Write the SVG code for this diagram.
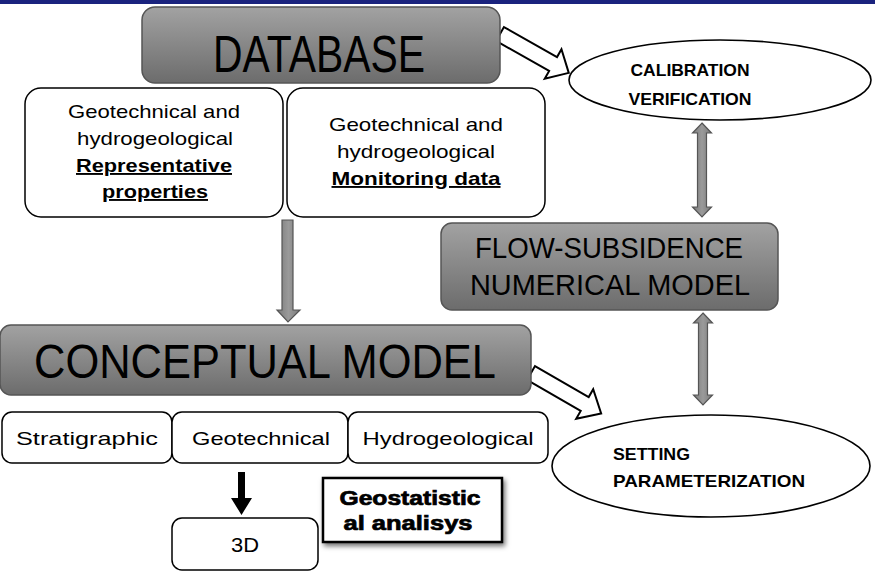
<svg xmlns="http://www.w3.org/2000/svg" width="875" height="572" viewBox="0 0 875 572">
<defs>
<linearGradient id="gbox" x1="0" y1="0" x2="0" y2="1">
<stop offset="0" stop-color="#a2a2a2"/><stop offset="1" stop-color="#6c6c6c"/>
</linearGradient>
<linearGradient id="garr" x1="0" y1="0" x2="1" y2="0">
<stop offset="0" stop-color="#7a7a7a"/><stop offset="0.5" stop-color="#9a9a9a"/><stop offset="1" stop-color="#7a7a7a"/>
</linearGradient>
<filter id="shadow" x="-20%" y="-20%" width="140%" height="150%">
<feDropShadow dx="2" dy="3" stdDeviation="2.5" flood-color="#000" flood-opacity="0.55"/>
</filter>
</defs>
<style>
text{font-family:"Liberation Sans",Arial,sans-serif;fill:#000}
.gray{fill:url(#gbox);stroke:#555;stroke-width:1.5}
.white{fill:#fff;stroke:#000;stroke-width:1.5}
.ell{fill:#fff;stroke:#000;stroke-width:1.6}
.hollow{fill:#fff;stroke:#000;stroke-width:2;stroke-linejoin:miter}
.garrow{fill:url(#garr);stroke:#555;stroke-width:1.2}
.m{text-anchor:middle}
.b{font-weight:bold}
.u{text-decoration:underline}
</style>
<rect x="0" y="0" width="875" height="4" fill="#1a237e"/>

<g id="connectors">
<polygon class="hollow" transform="translate(500,34) rotate(29.5)" points="0,-8 61,-8 61,-17 79,0 61,17 61,8 0,8"/>
<polygon class="hollow" transform="translate(531,373) rotate(30)" points="0,-8 62,-8 62,-17 81,0 62,17 62,8 0,8"/>
<polygon class="garrow" points="282,220 293,220 293,310 300,310 288,322 277,310 282,310"/>
<polygon class="garrow" points="702,123 711.5,133 706.5,133 706.5,207 711.5,207 702,217 692.5,207 697.5,207 697.5,133 692.5,133"/>
<polygon class="garrow" points="703,313 712.5,323 707.5,323 707.5,395 712.5,395 703,405 693.5,395 698.5,395 698.5,323 693.5,323"/>
<polygon fill="#000" points="238,472 245,472 245,498 252,498 241.5,515 231,498 238,498"/>
</g>

<g id="database">
<rect class="gray" x="142" y="7" width="358" height="76" rx="13"/>
<text class="m" x="319" y="72" font-size="52" textLength="212" lengthAdjust="spacingAndGlyphs">DATABASE</text>
</g>

<g id="calibration">
<ellipse class="ell" cx="720" cy="80" rx="151" ry="40"/>
<text class="m b" x="690" y="76" font-size="17" textLength="119" lengthAdjust="spacingAndGlyphs">CALIBRATION</text>
<text class="m b" x="690" y="105" font-size="17" textLength="123" lengthAdjust="spacingAndGlyphs">VERIFICATION</text>
</g>

<g id="representative">
<rect class="white" x="25" y="88" width="258" height="129" rx="16"/>
<text class="m" x="154" y="118" font-size="19" textLength="172" lengthAdjust="spacingAndGlyphs">Geotechnical and</text>
<text class="m" x="155" y="145" font-size="19" textLength="156" lengthAdjust="spacingAndGlyphs">hydrogeological</text>
<text class="m b u" x="154" y="172" font-size="19" textLength="156" lengthAdjust="spacingAndGlyphs">Representative</text>
<text class="m b u" x="155" y="198" font-size="19" textLength="106" lengthAdjust="spacingAndGlyphs">properties</text>
</g>

<g id="monitoring">
<rect class="white" x="287" y="88" width="258" height="129" rx="16"/>
<text class="m" x="416" y="131" font-size="19" textLength="174" lengthAdjust="spacingAndGlyphs">Geotechnical and</text>
<text class="m" x="416" y="158" font-size="19" textLength="158" lengthAdjust="spacingAndGlyphs">hydrogeological</text>
<text class="m b u" x="416" y="185" font-size="19" textLength="169" lengthAdjust="spacingAndGlyphs">Monitoring data</text>
</g>

<g id="numerical-model">
<rect class="gray" x="441" y="223" width="337" height="87" rx="11"/>
<text class="m" x="609" y="258" font-size="30" textLength="268" lengthAdjust="spacingAndGlyphs">FLOW-SUBSIDENCE</text>
<text class="m" x="610" y="295" font-size="30" textLength="280" lengthAdjust="spacingAndGlyphs">NUMERICAL MODEL</text>
</g>

<g id="conceptual-model">
<rect class="gray" x="0" y="325" width="531" height="70" rx="11"/>
<text class="m" x="265" y="378" font-size="49" textLength="462" lengthAdjust="spacingAndGlyphs">CONCEPTUAL MODEL</text>
</g>

<g id="setting">
<ellipse class="ell" cx="711" cy="466" rx="159" ry="51"/>
<text class="b" x="613" y="460" font-size="17" textLength="77" lengthAdjust="spacingAndGlyphs">SETTING</text>
<text class="b" x="613" y="487" font-size="17" textLength="192" lengthAdjust="spacingAndGlyphs">PARAMETERIZATION</text>
</g>

<g id="stratigraphic">
<rect class="white" x="2" y="412" width="170" height="51" rx="10"/>
<text class="m" x="87" y="445" font-size="19" textLength="142" lengthAdjust="spacingAndGlyphs">Stratigraphic</text>
</g>
<g id="geotechnical">
<rect class="white" x="172" y="412" width="176" height="51" rx="10"/>
<text class="m" x="261" y="445" font-size="19" textLength="138" lengthAdjust="spacingAndGlyphs">Geotechnical</text>
</g>
<g id="hydrogeological">
<rect class="white" x="348" y="412" width="200" height="51" rx="10"/>
<text class="m" x="448" y="445" font-size="19" textLength="171" lengthAdjust="spacingAndGlyphs">Hydrogeological</text>
</g>

<g id="three-d">
<rect class="white" x="172" y="518" width="146" height="52" rx="10"/>
<text class="m" x="245" y="552" font-size="20" textLength="28" lengthAdjust="spacingAndGlyphs">3D</text>
</g>

<g id="geostatistic">
<rect x="323" y="478" width="179" height="64" fill="#fff" stroke="#000" stroke-width="2.5" filter="url(#shadow)"/>
<text class="m b" x="410" y="505" font-size="20" stroke="#000" stroke-width="0.7" textLength="141" lengthAdjust="spacingAndGlyphs">Geostatistic</text>
<text class="m b" x="408" y="530" font-size="20" stroke="#000" stroke-width="0.7" textLength="129" lengthAdjust="spacingAndGlyphs">al analisys</text>
</g>
</svg>
